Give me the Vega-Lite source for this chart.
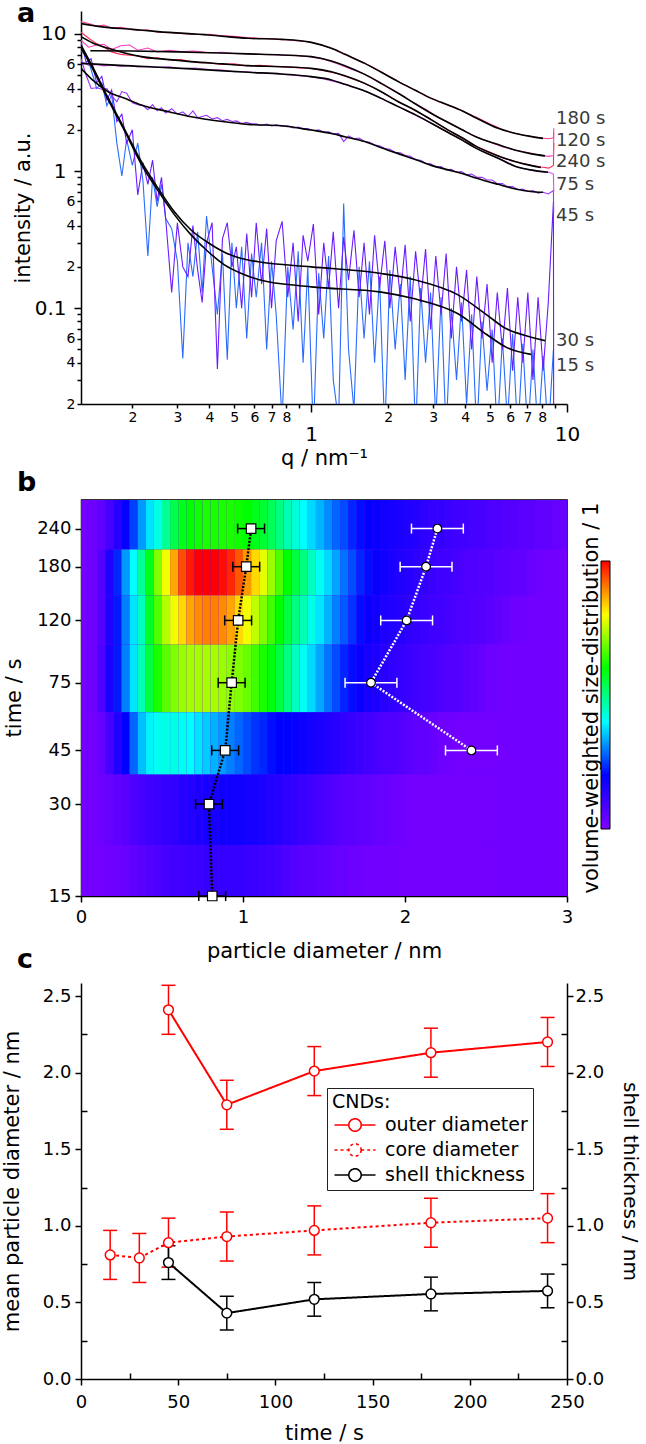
{
"$schema": "https://vega.github.io/schema/vega-lite/v6.json",
"padding": {"left": 1, "top": 0, "right": 6, "bottom": 0},
"background": "white",
"config": {
  "font": "DejaVu Sans",
  "view": {"stroke": null},
  "axis": {"grid": false, "domainColor": "#000", "domainWidth": 1.5, "tickColor": "#000", "tickWidth": 1.5, "labelColor": "#000", "titleColor": "#000", "labelFont": "DejaVu Sans", "titleFont": "DejaVu Sans", "titleFontWeight": "normal", "labelFontSize": 18, "titleFontSize": 21, "labelFlush": false, "labelOverlap": false, "labelBound": false},
  "title": {"font": "DejaVu Sans", "fontSize": 27, "fontWeight": "bold", "anchor": "start", "frame": "group", "offset": 0, "baseline": "alphabetic", "color": "#000"},
  "legend": {"labelFont": "DejaVu Sans", "titleFont": "DejaVu Sans"}
},
"datasets": {
"sa": [
{"s":"15 s","q":0.126,"I":7.5},{"s":"15 s","q":0.132,"I":7.0},{"s":"15 s","q":0.138,"I":5.5},{"s":"15 s","q":0.145,"I":4.0},{"s":"15 s","q":0.152,"I":4.4},{"s":"15 s","q":0.159,"I":3.0},{"s":"15 s","q":0.166,"I":3.6},{"s":"15 s","q":0.174,"I":1.6},{"s":"15 s","q":0.182,"I":0.92},{"s":"15 s","q":0.19,"I":1.7},
{"s":"15 s","q":0.2,"I":1.1},{"s":"15 s","q":0.21,"I":1.6},{"s":"15 s","q":0.22,"I":0.85},{"s":"15 s","q":0.23,"I":0.24},{"s":"15 s","q":0.24,"I":0.9},{"s":"15 s","q":0.25,"I":0.55},{"s":"15 s","q":0.26,"I":0.8},{"s":"15 s","q":0.27,"I":0.45},{"s":"15 s","q":0.285,"I":0.38},{"s":"15 s","q":0.3,"I":0.22},
{"s":"15 s","q":0.315,"I":0.043},{"s":"15 s","q":0.33,"I":0.3},{"s":"15 s","q":0.345,"I":0.17},{"s":"15 s","q":0.36,"I":0.36},{"s":"15 s","q":0.375,"I":0.13},{"s":"15 s","q":0.39,"I":0.47},{"s":"15 s","q":0.41,"I":0.2},{"s":"15 s","q":0.43,"I":0.09},{"s":"15 s","q":0.45,"I":0.25},{"s":"15 s","q":0.47,"I":0.042},
{"s":"15 s","q":0.49,"I":0.3},{"s":"15 s","q":0.51,"I":0.1},{"s":"15 s","q":0.535,"I":0.28},{"s":"15 s","q":0.56,"I":0.06},{"s":"15 s","q":0.585,"I":0.25},{"s":"15 s","q":0.61,"I":0.12},{"s":"15 s","q":0.64,"I":0.3},{"s":"15 s","q":0.67,"I":0.05},{"s":"15 s","q":0.7,"I":0.22},{"s":"15 s","q":0.73,"I":0.09},
{"s":"15 s","q":0.77,"I":0.015},{"s":"15 s","q":0.81,"I":0.2},{"s":"15 s","q":0.85,"I":0.07},{"s":"15 s","q":0.89,"I":0.26},{"s":"15 s","q":0.93,"I":0.04},{"s":"15 s","q":0.97,"I":0.2},{"s":"15 s","q":1.02,"I":0.012},{"s":"15 s","q":1.07,"I":0.18},{"s":"15 s","q":1.12,"I":0.06},{"s":"15 s","q":1.17,"I":0.24},
{"s":"15 s","q":1.22,"I":0.03},{"s":"15 s","q":1.28,"I":0.015},{"s":"15 s","q":1.34,"I":0.58},{"s":"15 s","q":1.4,"I":0.05},{"s":"15 s","q":1.47,"I":0.018},{"s":"15 s","q":1.54,"I":0.2},{"s":"15 s","q":1.61,"I":0.06},{"s":"15 s","q":1.69,"I":0.22},{"s":"15 s","q":1.77,"I":0.04},{"s":"15 s","q":1.85,"I":0.17},
{"s":"15 s","q":1.94,"I":0.012},{"s":"15 s","q":2.03,"I":0.19},{"s":"15 s","q":2.13,"I":0.05},{"s":"15 s","q":2.23,"I":0.15},{"s":"15 s","q":2.33,"I":0.03},{"s":"15 s","q":2.44,"I":0.17},{"s":"15 s","q":2.56,"I":0.012},{"s":"15 s","q":2.68,"I":0.14},{"s":"15 s","q":2.8,"I":0.04},{"s":"15 s","q":2.93,"I":0.13},
{"s":"15 s","q":3.07,"I":0.015},{"s":"15 s","q":3.22,"I":0.12},{"s":"15 s","q":3.37,"I":0.012},{"s":"15 s","q":3.53,"I":0.1},{"s":"15 s","q":3.7,"I":0.03},{"s":"15 s","q":3.87,"I":0.11},{"s":"15 s","q":4.05,"I":0.02},{"s":"15 s","q":4.24,"I":0.09},{"s":"15 s","q":4.44,"I":0.012},{"s":"15 s","q":4.65,"I":0.08},
{"s":"15 s","q":4.87,"I":0.025},{"s":"15 s","q":5.1,"I":0.07},{"s":"15 s","q":5.34,"I":0.012},{"s":"15 s","q":5.59,"I":0.06},{"s":"15 s","q":5.85,"I":0.015},{"s":"15 s","q":6.13,"I":0.065},{"s":"15 s","q":6.42,"I":0.012},{"s":"15 s","q":6.72,"I":0.055},{"s":"15 s","q":7.03,"I":0.012},{"s":"15 s","q":7.36,"I":0.05},
{"s":"15 s","q":7.71,"I":0.012},{"s":"15 s","q":8.07,"I":0.045},{"s":"15 s","q":8.45,"I":0.012},{"s":"15 s","q":8.85,"I":0.05},
{"s":"30 s","q":0.126,"I":8.8},{"s":"30 s","q":0.132,"I":6.2},{"s":"30 s","q":0.138,"I":6.6},{"s":"30 s","q":0.145,"I":4.4},{"s":"30 s","q":0.152,"I":4.9},{"s":"30 s","q":0.159,"I":3.3},{"s":"30 s","q":0.166,"I":3.9},{"s":"30 s","q":0.174,"I":2.3},{"s":"30 s","q":0.182,"I":2.6},{"s":"30 s","q":0.19,"I":1.6},
{"s":"30 s","q":0.2,"I":2.0},{"s":"30 s","q":0.21,"I":0.67},{"s":"30 s","q":0.22,"I":1.15},{"s":"30 s","q":0.23,"I":0.8},{"s":"30 s","q":0.24,"I":1.2},{"s":"30 s","q":0.25,"I":0.6},{"s":"30 s","q":0.26,"I":0.9},{"s":"30 s","q":0.27,"I":0.45},{"s":"30 s","q":0.285,"I":0.13},{"s":"30 s","q":0.3,"I":0.42},
{"s":"30 s","q":0.315,"I":0.2},{"s":"30 s","q":0.33,"I":0.17},{"s":"30 s","q":0.345,"I":0.4},{"s":"30 s","q":0.36,"I":0.19},{"s":"30 s","q":0.375,"I":0.11},{"s":"30 s","q":0.39,"I":0.3},{"s":"30 s","q":0.41,"I":0.42},{"s":"30 s","q":0.43,"I":0.036},{"s":"30 s","q":0.45,"I":0.32},{"s":"30 s","q":0.47,"I":0.42},
{"s":"30 s","q":0.49,"I":0.2},{"s":"30 s","q":0.51,"I":0.28},{"s":"30 s","q":0.535,"I":0.1},{"s":"30 s","q":0.56,"I":0.35},{"s":"30 s","q":0.585,"I":0.12},{"s":"30 s","q":0.61,"I":0.42},{"s":"30 s","q":0.64,"I":0.15},{"s":"30 s","q":0.67,"I":0.38},{"s":"30 s","q":0.7,"I":0.1},{"s":"30 s","q":0.73,"I":0.31},
{"s":"30 s","q":0.77,"I":0.43},{"s":"30 s","q":0.81,"I":0.12},{"s":"30 s","q":0.85,"I":0.3},{"s":"30 s","q":0.89,"I":0.08},{"s":"30 s","q":0.93,"I":0.34},{"s":"30 s","q":0.97,"I":0.22},{"s":"30 s","q":1.02,"I":0.41},{"s":"30 s","q":1.07,"I":0.09},{"s":"30 s","q":1.12,"I":0.3},{"s":"30 s","q":1.17,"I":0.14},
{"s":"30 s","q":1.22,"I":0.36},{"s":"30 s","q":1.28,"I":0.1},{"s":"30 s","q":1.34,"I":0.33},{"s":"30 s","q":1.4,"I":0.16},{"s":"30 s","q":1.47,"I":0.37},{"s":"30 s","q":1.54,"I":0.12},{"s":"30 s","q":1.61,"I":0.3},{"s":"30 s","q":1.69,"I":0.09},{"s":"30 s","q":1.77,"I":0.34},{"s":"30 s","q":1.85,"I":0.14},
{"s":"30 s","q":1.94,"I":0.31},{"s":"30 s","q":2.03,"I":0.1},{"s":"30 s","q":2.13,"I":0.28},{"s":"30 s","q":2.23,"I":0.12},{"s":"30 s","q":2.33,"I":0.29},{"s":"30 s","q":2.44,"I":0.08},{"s":"30 s","q":2.56,"I":0.26},{"s":"30 s","q":2.68,"I":0.11},{"s":"30 s","q":2.8,"I":0.27},{"s":"30 s","q":2.93,"I":0.07},
{"s":"30 s","q":3.07,"I":0.24},{"s":"30 s","q":3.22,"I":0.09},{"s":"30 s","q":3.37,"I":0.25},{"s":"30 s","q":3.53,"I":0.06},{"s":"30 s","q":3.7,"I":0.2},{"s":"30 s","q":3.87,"I":0.08},{"s":"30 s","q":4.05,"I":0.19},{"s":"30 s","q":4.24,"I":0.05},{"s":"30 s","q":4.44,"I":0.17},{"s":"30 s","q":4.65,"I":0.06},
{"s":"30 s","q":4.87,"I":0.15},{"s":"30 s","q":5.1,"I":0.04},{"s":"30 s","q":5.34,"I":0.13},{"s":"30 s","q":5.59,"I":0.05},{"s":"30 s","q":5.85,"I":0.14},{"s":"30 s","q":6.13,"I":0.035},{"s":"30 s","q":6.42,"I":0.12},{"s":"30 s","q":6.72,"I":0.04},{"s":"30 s","q":7.03,"I":0.13},{"s":"30 s","q":7.36,"I":0.03},
{"s":"30 s","q":7.71,"I":0.12},{"s":"30 s","q":8.07,"I":0.035},{"s":"30 s","q":8.45,"I":0.11},{"s":"30 s","q":8.85,"I":0.6},{"s":"30 s","q":8.87,"I":0.015},
{"s":"45 s","q":0.126,"I":6.6},{"s":"45 s","q":0.132,"I":5.0},{"s":"45 s","q":0.138,"I":4.0},{"s":"45 s","q":0.145,"I":4.05},{"s":"45 s","q":0.152,"I":3.95},{"s":"45 s","q":0.159,"I":4.0},{"s":"45 s","q":0.166,"I":3.55},{"s":"45 s","q":0.174,"I":3.2},{"s":"45 s","q":0.182,"I":3.8},{"s":"45 s","q":0.19,"I":3.7},
{"s":"45 s","q":0.2,"I":3.15},{"s":"45 s","q":0.21,"I":3.05},{"s":"45 s","q":0.22,"I":3.0},{"s":"45 s","q":0.23,"I":2.8},{"s":"45 s","q":0.24,"I":3.05},{"s":"45 s","q":0.25,"I":2.75},{"s":"45 s","q":0.26,"I":2.9},{"s":"45 s","q":0.27,"I":2.65},{"s":"45 s","q":0.285,"I":2.85},{"s":"45 s","q":0.3,"I":2.6},
{"s":"45 s","q":0.315,"I":2.7},{"s":"45 s","q":0.33,"I":2.5},{"s":"45 s","q":0.345,"I":2.75},{"s":"45 s","q":0.36,"I":2.45},{"s":"45 s","q":0.375,"I":2.5},{"s":"45 s","q":0.39,"I":2.55},{"s":"45 s","q":0.41,"I":2.4},{"s":"45 s","q":0.43,"I":2.45},{"s":"45 s","q":0.45,"I":2.33},{"s":"45 s","q":0.47,"I":2.38},
{"s":"45 s","q":0.49,"I":2.3},{"s":"45 s","q":0.51,"I":2.32},{"s":"45 s","q":0.535,"I":2.22},{"s":"45 s","q":0.56,"I":2.27},{"s":"45 s","q":0.585,"I":2.2},{"s":"45 s","q":0.61,"I":2.21},{"s":"45 s","q":0.64,"I":2.15},{"s":"45 s","q":0.67,"I":2.2},{"s":"45 s","q":0.7,"I":2.13},{"s":"45 s","q":0.73,"I":2.17},
{"s":"45 s","q":0.77,"I":2.12},{"s":"45 s","q":0.81,"I":2.14},{"s":"45 s","q":0.85,"I":2.06},{"s":"45 s","q":0.89,"I":2.09},{"s":"45 s","q":0.93,"I":2.03},{"s":"45 s","q":0.97,"I":2.04},{"s":"45 s","q":1.02,"I":1.97},{"s":"45 s","q":1.07,"I":2.0},{"s":"45 s","q":1.12,"I":1.92},{"s":"45 s","q":1.17,"I":1.93},
{"s":"45 s","q":1.22,"I":1.86},{"s":"45 s","q":1.28,"I":1.88},{"s":"45 s","q":1.34,"I":1.64},{"s":"45 s","q":1.4,"I":1.8},{"s":"45 s","q":1.47,"I":1.72},{"s":"45 s","q":1.54,"I":1.74},{"s":"45 s","q":1.61,"I":1.65},{"s":"45 s","q":1.69,"I":1.62},{"s":"45 s","q":1.77,"I":1.55},{"s":"45 s","q":1.85,"I":1.53},
{"s":"45 s","q":1.94,"I":1.46},{"s":"45 s","q":2.03,"I":1.44},{"s":"45 s","q":2.13,"I":1.37},{"s":"45 s","q":2.23,"I":1.36},{"s":"45 s","q":2.33,"I":1.3},{"s":"45 s","q":2.44,"I":1.28},{"s":"45 s","q":2.56,"I":1.21},{"s":"45 s","q":2.68,"I":1.2},{"s":"45 s","q":2.8,"I":1.14},{"s":"45 s","q":2.93,"I":1.13},
{"s":"45 s","q":3.07,"I":1.07},{"s":"45 s","q":3.22,"I":1.08},{"s":"45 s","q":3.37,"I":1.02},{"s":"45 s","q":3.53,"I":1.03},{"s":"45 s","q":3.7,"I":0.98},{"s":"45 s","q":3.87,"I":0.99},{"s":"45 s","q":4.05,"I":0.94},{"s":"45 s","q":4.24,"I":0.95},{"s":"45 s","q":4.44,"I":0.9},{"s":"45 s","q":4.65,"I":0.9},
{"s":"45 s","q":4.87,"I":0.86},{"s":"45 s","q":5.1,"I":0.86},{"s":"45 s","q":5.34,"I":0.81},{"s":"45 s","q":5.59,"I":0.81},{"s":"45 s","q":5.85,"I":0.77},{"s":"45 s","q":6.13,"I":0.77},{"s":"45 s","q":6.42,"I":0.73},{"s":"45 s","q":6.72,"I":0.74},{"s":"45 s","q":7.03,"I":0.71},{"s":"45 s","q":7.36,"I":0.72},
{"s":"45 s","q":7.71,"I":0.69},{"s":"45 s","q":8.07,"I":0.7},{"s":"45 s","q":8.45,"I":0.68},{"s":"45 s","q":8.85,"I":0.72},{"s":"45 s","q":8.87,"I":0.5},
{"s":"75 s","q":0.126,"I":6.3},{"s":"75 s","q":0.135,"I":5.9},{"s":"75 s","q":0.145,"I":6.0},{"s":"75 s","q":0.155,"I":5.85},{"s":"75 s","q":0.166,"I":5.95},{"s":"75 s","q":0.18,"I":5.8},{"s":"75 s","q":0.195,"I":5.9},{"s":"75 s","q":0.21,"I":5.75},{"s":"75 s","q":0.23,"I":5.8},{"s":"75 s","q":0.25,"I":5.7},
{"s":"75 s","q":0.28,"I":5.75},{"s":"75 s","q":0.31,"I":5.6},{"s":"75 s","q":0.35,"I":5.65},{"s":"75 s","q":0.4,"I":5.5},{"s":"75 s","q":0.45,"I":5.45},{"s":"75 s","q":0.5,"I":5.3},{"s":"75 s","q":0.56,"I":5.3},{"s":"75 s","q":0.63,"I":5.2},{"s":"75 s","q":0.71,"I":5.15},{"s":"75 s","q":0.8,"I":5.05},
{"s":"75 s","q":0.9,"I":4.95},{"s":"75 s","q":1.0,"I":4.85},{"s":"75 s","q":1.12,"I":4.7},{"s":"75 s","q":1.26,"I":4.45},{"s":"75 s","q":1.41,"I":4.2},{"s":"75 s","q":1.58,"I":3.9},{"s":"75 s","q":1.78,"I":3.55},{"s":"75 s","q":2.0,"I":3.2},{"s":"75 s","q":2.24,"I":2.9},{"s":"75 s","q":2.51,"I":2.6},
{"s":"75 s","q":2.82,"I":2.33},{"s":"75 s","q":3.16,"I":2.08},{"s":"75 s","q":3.55,"I":1.85},{"s":"75 s","q":3.98,"I":1.65},{"s":"75 s","q":4.47,"I":1.45},{"s":"75 s","q":5.01,"I":1.32},{"s":"75 s","q":5.62,"I":1.2},{"s":"75 s","q":6.31,"I":1.08},{"s":"75 s","q":7.08,"I":1.02},{"s":"75 s","q":7.94,"I":0.99},
{"s":"75 s","q":8.5,"I":0.98},{"s":"75 s","q":8.85,"I":0.95},{"s":"75 s","q":8.88,"I":0.7},
{"s":"240 s","q":0.126,"I":10.3},{"s":"240 s","q":0.135,"I":9.3},{"s":"240 s","q":0.145,"I":8.5},{"s":"240 s","q":0.155,"I":8.0},{"s":"240 s","q":0.166,"I":7.4},{"s":"240 s","q":0.18,"I":7.1},{"s":"240 s","q":0.195,"I":7.0},{"s":"240 s","q":0.21,"I":6.9},{"s":"240 s","q":0.23,"I":6.6},{"s":"240 s","q":0.25,"I":6.7},
{"s":"240 s","q":0.28,"I":6.45},{"s":"240 s","q":0.31,"I":6.5},{"s":"240 s","q":0.35,"I":6.2},{"s":"240 s","q":0.4,"I":6.15},{"s":"240 s","q":0.45,"I":6.0},{"s":"240 s","q":0.5,"I":6.05},{"s":"240 s","q":0.56,"I":5.85},{"s":"240 s","q":0.63,"I":5.9},{"s":"240 s","q":0.71,"I":5.8},{"s":"240 s","q":0.8,"I":5.75},
{"s":"240 s","q":0.9,"I":5.65},{"s":"240 s","q":1.0,"I":5.6},{"s":"240 s","q":1.12,"I":5.4},{"s":"240 s","q":1.26,"I":5.15},{"s":"240 s","q":1.41,"I":4.8},{"s":"240 s","q":1.58,"I":4.45},{"s":"240 s","q":1.78,"I":4.0},{"s":"240 s","q":2.0,"I":3.55},{"s":"240 s","q":2.24,"I":3.15},{"s":"240 s","q":2.51,"I":2.8},
{"s":"240 s","q":2.82,"I":2.5},{"s":"240 s","q":3.16,"I":2.2},{"s":"240 s","q":3.55,"I":1.92},{"s":"240 s","q":3.98,"I":1.7},{"s":"240 s","q":4.47,"I":1.5},{"s":"240 s","q":5.01,"I":1.37},{"s":"240 s","q":5.62,"I":1.25},{"s":"240 s","q":6.31,"I":1.17},{"s":"240 s","q":7.08,"I":1.11},{"s":"240 s","q":7.94,"I":1.07},
{"s":"240 s","q":8.5,"I":1.05},{"s":"240 s","q":8.85,"I":1.1},{"s":"240 s","q":8.88,"I":1.6},
{"s":"120 s","q":0.126,"I":9.0},{"s":"120 s","q":0.135,"I":8.0},{"s":"120 s","q":0.145,"I":8.3},{"s":"120 s","q":0.155,"I":8.4},{"s":"120 s","q":0.166,"I":7.7},{"s":"120 s","q":0.18,"I":8.2},{"s":"120 s","q":0.195,"I":8.3},{"s":"120 s","q":0.21,"I":7.6},{"s":"120 s","q":0.23,"I":7.9},{"s":"120 s","q":0.25,"I":7.4},
{"s":"120 s","q":0.28,"I":7.6},{"s":"120 s","q":0.31,"I":7.45},{"s":"120 s","q":0.35,"I":7.5},{"s":"120 s","q":0.4,"I":7.3},{"s":"120 s","q":0.45,"I":7.35},{"s":"120 s","q":0.5,"I":7.2},{"s":"120 s","q":0.56,"I":7.15},{"s":"120 s","q":0.63,"I":7.1},{"s":"120 s","q":0.71,"I":7.05},{"s":"120 s","q":0.8,"I":7.0},
{"s":"120 s","q":0.9,"I":6.95},{"s":"120 s","q":1.0,"I":6.8},{"s":"120 s","q":1.12,"I":6.55},{"s":"120 s","q":1.26,"I":6.1},{"s":"120 s","q":1.41,"I":5.6},{"s":"120 s","q":1.58,"I":5.2},{"s":"120 s","q":1.78,"I":4.6},{"s":"120 s","q":2.0,"I":4.05},{"s":"120 s","q":2.24,"I":3.6},{"s":"120 s","q":2.51,"I":3.15},
{"s":"120 s","q":2.82,"I":2.8},{"s":"120 s","q":3.16,"I":2.45},{"s":"120 s","q":3.55,"I":2.2},{"s":"120 s","q":3.98,"I":1.95},{"s":"120 s","q":4.47,"I":1.76},{"s":"120 s","q":5.01,"I":1.62},{"s":"120 s","q":5.62,"I":1.5},{"s":"120 s","q":6.31,"I":1.42},{"s":"120 s","q":7.08,"I":1.36},{"s":"120 s","q":7.94,"I":1.3},
{"s":"120 s","q":8.5,"I":1.28},{"s":"120 s","q":8.85,"I":1.3},{"s":"120 s","q":8.88,"I":1.9},
{"s":"180 s","q":0.126,"I":12.3},{"s":"180 s","q":0.135,"I":11.9},{"s":"180 s","q":0.145,"I":11.4},{"s":"180 s","q":0.155,"I":11.6},{"s":"180 s","q":0.166,"I":11.0},{"s":"180 s","q":0.18,"I":11.2},{"s":"180 s","q":0.195,"I":10.9},{"s":"180 s","q":0.21,"I":10.6},{"s":"180 s","q":0.23,"I":10.7},{"s":"180 s","q":0.25,"I":10.3},
{"s":"180 s","q":0.28,"I":10.2},{"s":"180 s","q":0.31,"I":10.1},{"s":"180 s","q":0.35,"I":9.9},{"s":"180 s","q":0.4,"I":9.95},{"s":"180 s","q":0.45,"I":9.7},{"s":"180 s","q":0.5,"I":9.6},{"s":"180 s","q":0.56,"I":9.4},{"s":"180 s","q":0.63,"I":9.3},{"s":"180 s","q":0.71,"I":9.2},{"s":"180 s","q":0.8,"I":9.05},
{"s":"180 s","q":0.9,"I":8.9},{"s":"180 s","q":1.0,"I":8.7},{"s":"180 s","q":1.12,"I":8.2},{"s":"180 s","q":1.26,"I":7.6},{"s":"180 s","q":1.41,"I":6.9},{"s":"180 s","q":1.58,"I":6.25},{"s":"180 s","q":1.78,"I":5.6},{"s":"180 s","q":2.0,"I":4.95},{"s":"180 s","q":2.24,"I":4.4},{"s":"180 s","q":2.51,"I":3.95},
{"s":"180 s","q":2.82,"I":3.5},{"s":"180 s","q":3.16,"I":3.2},{"s":"180 s","q":3.55,"I":2.95},{"s":"180 s","q":3.98,"I":2.7},{"s":"180 s","q":4.47,"I":2.45},{"s":"180 s","q":5.01,"I":2.2},{"s":"180 s","q":5.62,"I":2.0},{"s":"180 s","q":6.31,"I":1.88},{"s":"180 s","q":7.08,"I":1.8},{"s":"180 s","q":7.94,"I":1.74},
{"s":"180 s","q":8.5,"I":1.72},{"s":"180 s","q":8.85,"I":1.75},{"s":"180 s","q":8.88,"I":2.05}
],
"fa": [
{"s":"15 s","q":0.126,"I":7.9},{"s":"15 s","q":0.139,"I":5.7},{"s":"15 s","q":0.161,"I":3.3},{"s":"15 s","q":0.187,"I":1.95},{"s":"15 s","q":0.217,"I":1.12},{"s":"15 s","q":0.252,"I":0.72},{"s":"15 s","q":0.293,"I":0.477},{"s":"15 s","q":0.34,"I":0.341},{"s":"15 s","q":0.396,"I":0.258},{"s":"15 s","q":0.46,"I":0.206},{"s":"15 s","q":0.534,"I":0.179},{"s":"15 s","q":0.621,"I":0.162},{"s":"15 s","q":1.0,"I":0.143},{"s":"15 s","q":1.88,"I":0.131},{"s":"15 s","q":2.54,"I":0.117},{"s":"15 s","q":3.75,"I":0.091},{"s":"15 s","q":4.87,"I":0.064},{"s":"15 s","q":5.77,"I":0.052},{"s":"15 s","q":7.23,"I":0.046},
{"s":"30 s","q":0.126,"I":8.3},{"s":"30 s","q":0.139,"I":5.9},{"s":"30 s","q":0.161,"I":3.4},{"s":"30 s","q":0.187,"I":2.0},{"s":"30 s","q":0.217,"I":1.17},{"s":"30 s","q":0.252,"I":0.75},{"s":"30 s","q":0.293,"I":0.5},{"s":"30 s","q":0.34,"I":0.37},{"s":"30 s","q":0.396,"I":0.3},{"s":"30 s","q":0.46,"I":0.255},{"s":"30 s","q":0.534,"I":0.23},{"s":"30 s","q":0.621,"I":0.218},{"s":"30 s","q":1.0,"I":0.2},{"s":"30 s","q":1.88,"I":0.179},{"s":"30 s","q":2.54,"I":0.161},{"s":"30 s","q":3.75,"I":0.125},{"s":"30 s","q":4.87,"I":0.089},{"s":"30 s","q":5.77,"I":0.071},{"s":"30 s","q":6.72,"I":0.064},{"s":"30 s","q":8.2,"I":0.058},
{"s":"45 s","q":0.126,"I":5.61},{"s":"45 s","q":0.14,"I":4.6},{"s":"45 s","q":0.161,"I":3.79},{"s":"45 s","q":0.19,"I":3.35},{"s":"45 s","q":0.217,"I":3.03},{"s":"45 s","q":0.28,"I":2.7},{"s":"45 s","q":0.34,"I":2.49},{"s":"45 s","q":0.45,"I":2.3},{"s":"45 s","q":0.567,"I":2.19},{"s":"45 s","q":0.766,"I":2.14},{"s":"45 s","q":1.0,"I":1.99},{"s":"45 s","q":1.2,"I":1.88},{"s":"45 s","q":1.354,"I":1.78},{"s":"45 s","q":1.62,"I":1.64},{"s":"45 s","q":1.88,"I":1.48},{"s":"45 s","q":2.19,"I":1.34},{"s":"45 s","q":2.54,"I":1.22},{"s":"45 s","q":2.95,"I":1.1},{"s":"45 s","q":3.43,"I":1.02},{"s":"45 s","q":3.89,"I":0.96},{"s":"45 s","q":4.4,"I":0.89},{"s":"45 s","q":5.38,"I":0.8},{"s":"45 s","q":6.3,"I":0.74},{"s":"45 s","q":7.2,"I":0.71},{"s":"45 s","q":8.06,"I":0.7},
{"s":"75 s","q":0.126,"I":6.1},{"s":"75 s","q":0.187,"I":5.87},{"s":"75 s","q":0.34,"I":5.56},{"s":"75 s","q":0.567,"I":5.25},{"s":"75 s","q":0.766,"I":5.1},{"s":"75 s","q":1.0,"I":4.88},{"s":"75 s","q":1.2,"I":4.62},{"s":"75 s","q":1.354,"I":4.29},{"s":"75 s","q":1.62,"I":3.84},{"s":"75 s","q":1.88,"I":3.39},{"s":"75 s","q":2.19,"I":2.95},{"s":"75 s","q":2.54,"I":2.59},{"s":"75 s","q":2.95,"I":2.23},{"s":"75 s","q":3.43,"I":1.91},{"s":"75 s","q":3.89,"I":1.68},{"s":"75 s","q":4.4,"I":1.47},{"s":"75 s","q":5.38,"I":1.24},{"s":"75 s","q":6.3,"I":1.08},{"s":"75 s","q":7.2,"I":1.02},{"s":"75 s","q":8.43,"I":0.98},
{"s":"240 s","q":0.126,"I":9.55},{"s":"240 s","q":0.14,"I":8.6},{"s":"240 s","q":0.161,"I":7.85},{"s":"240 s","q":0.19,"I":7.2},{"s":"240 s","q":0.217,"I":6.83},{"s":"240 s","q":0.28,"I":6.5},{"s":"240 s","q":0.34,"I":6.28},{"s":"240 s","q":0.45,"I":6.05},{"s":"240 s","q":0.567,"I":5.87},{"s":"240 s","q":0.766,"I":5.77},{"s":"240 s","q":1.0,"I":5.61},{"s":"240 s","q":1.2,"I":5.3},{"s":"240 s","q":1.354,"I":4.96},{"s":"240 s","q":1.62,"I":4.36},{"s":"240 s","q":1.88,"I":3.79},{"s":"240 s","q":2.19,"I":3.2},{"s":"240 s","q":2.54,"I":2.79},{"s":"240 s","q":2.95,"I":2.36},{"s":"240 s","q":3.43,"I":1.99},{"s":"240 s","q":3.89,"I":1.75},{"s":"240 s","q":4.4,"I":1.52},{"s":"240 s","q":5.38,"I":1.29},{"s":"240 s","q":6.3,"I":1.17},{"s":"240 s","q":7.2,"I":1.1},{"s":"240 s","q":7.91,"I":1.06},
{"s":"120 s","q":0.137,"I":7.55},{"s":"120 s","q":0.2,"I":7.5},{"s":"120 s","q":0.3,"I":7.4},{"s":"120 s","q":0.4,"I":7.3},{"s":"120 s","q":0.567,"I":7.15},{"s":"120 s","q":0.766,"I":7.03},{"s":"120 s","q":1.0,"I":6.83},{"s":"120 s","q":1.2,"I":6.35},{"s":"120 s","q":1.354,"I":5.87},{"s":"120 s","q":1.62,"I":5.07},{"s":"120 s","q":1.88,"I":4.36},{"s":"120 s","q":2.19,"I":3.69},{"s":"120 s","q":2.54,"I":3.11},{"s":"120 s","q":2.95,"I":2.63},{"s":"120 s","q":3.43,"I":2.26},{"s":"120 s","q":3.89,"I":2.0},{"s":"120 s","q":4.4,"I":1.78},{"s":"120 s","q":5.38,"I":1.56},{"s":"120 s","q":6.3,"I":1.42},{"s":"120 s","q":7.2,"I":1.34},{"s":"120 s","q":8.2,"I":1.29},
{"s":"180 s","q":0.126,"I":11.9},{"s":"180 s","q":0.15,"I":11.3},{"s":"180 s","q":0.2,"I":10.8},{"s":"180 s","q":0.252,"I":10.4},{"s":"180 s","q":0.396,"I":9.83},{"s":"180 s","q":0.567,"I":9.29},{"s":"180 s","q":0.766,"I":9.13},{"s":"180 s","q":1.0,"I":8.68},{"s":"180 s","q":1.2,"I":7.85},{"s":"180 s","q":1.354,"I":7.1},{"s":"180 s","q":1.62,"I":6.1},{"s":"180 s","q":1.88,"I":5.25},{"s":"180 s","q":2.19,"I":4.49},{"s":"180 s","q":2.54,"I":3.9},{"s":"180 s","q":2.95,"I":3.39},{"s":"180 s","q":3.43,"I":3.03},{"s":"180 s","q":3.89,"I":2.75},{"s":"180 s","q":4.4,"I":2.45},{"s":"180 s","q":5.38,"I":2.05},{"s":"180 s","q":6.3,"I":1.88},{"s":"180 s","q":7.2,"I":1.79},{"s":"180 s","q":8.06,"I":1.73}
],
"la": [
{"lab":"180 s","q":9.06,"I":2.41},{"lab":"120 s","q":9.06,"I":1.65},{"lab":"240 s","q":9.06,"I":1.16},{"lab":"75 s","q":9.06,"I":0.79},{"lab":"45 s","q":9.06,"I":0.47},{"lab":"30 s","q":9.06,"I":0.058},{"lab":"15 s","q":9.06,"I":0.0376}
],
"bands": [
{"t":240,"lo":205,"hi":300},{"t":180,"lo":145,"hi":205},{"t":120,"lo":100,"hi":145},{"t":75,"lo":60,"hi":100},{"t":45,"lo":37.5,"hi":60},{"t":30,"lo":22,"hi":37.5},{"t":15,"lo":15,"hi":22}
],
"heat": [
{"t":240,"d":0.025,"v":0.02},{"t":240,"d":0.075,"v":0.03},{"t":240,"d":0.125,"v":0.05},{"t":240,"d":0.175,"v":0.09},{"t":240,"d":0.225,"v":0.14},{"t":240,"d":0.275,"v":0.19},{"t":240,"d":0.325,"v":0.25},{"t":240,"d":0.375,"v":0.32},{"t":240,"d":0.425,"v":0.38},{"t":240,"d":0.475,"v":0.42},
{"t":240,"d":0.525,"v":0.48},{"t":240,"d":0.575,"v":0.54},{"t":240,"d":0.625,"v":0.58},{"t":240,"d":0.675,"v":0.6},{"t":240,"d":0.725,"v":0.61},{"t":240,"d":0.775,"v":0.62},{"t":240,"d":0.825,"v":0.62},{"t":240,"d":0.875,"v":0.62},{"t":240,"d":0.925,"v":0.62},{"t":240,"d":0.975,"v":0.61},
{"t":240,"d":1.025,"v":0.6},{"t":240,"d":1.075,"v":0.58},{"t":240,"d":1.125,"v":0.56},{"t":240,"d":1.175,"v":0.53},{"t":240,"d":1.225,"v":0.5},{"t":240,"d":1.275,"v":0.46},{"t":240,"d":1.325,"v":0.43},{"t":240,"d":1.375,"v":0.4},{"t":240,"d":1.425,"v":0.37},{"t":240,"d":1.475,"v":0.34},
{"t":240,"d":1.525,"v":0.31},{"t":240,"d":1.575,"v":0.28},{"t":240,"d":1.625,"v":0.26},{"t":240,"d":1.675,"v":0.23},{"t":240,"d":1.725,"v":0.21},{"t":240,"d":1.775,"v":0.2},{"t":240,"d":1.825,"v":0.19},{"t":240,"d":1.875,"v":0.18},{"t":240,"d":1.925,"v":0.17},{"t":240,"d":1.975,"v":0.16},
{"t":240,"d":2.025,"v":0.15},{"t":240,"d":2.075,"v":0.14},{"t":240,"d":2.125,"v":0.13},{"t":240,"d":2.175,"v":0.12},{"t":240,"d":2.225,"v":0.12},{"t":240,"d":2.275,"v":0.11},{"t":240,"d":2.325,"v":0.1},{"t":240,"d":2.375,"v":0.1},{"t":240,"d":2.425,"v":0.09},{"t":240,"d":2.475,"v":0.09},
{"t":240,"d":2.525,"v":0.08},{"t":240,"d":2.575,"v":0.08},{"t":240,"d":2.625,"v":0.07},{"t":240,"d":2.675,"v":0.07},{"t":240,"d":2.725,"v":0.06},{"t":240,"d":2.775,"v":0.06},{"t":240,"d":2.825,"v":0.05},{"t":240,"d":2.875,"v":0.05},{"t":240,"d":2.925,"v":0.04},{"t":240,"d":2.975,"v":0.04},
{"t":180,"d":0.025,"v":0.02},{"t":180,"d":0.075,"v":0.03},{"t":180,"d":0.125,"v":0.07},{"t":180,"d":0.175,"v":0.15},{"t":180,"d":0.225,"v":0.23},{"t":180,"d":0.275,"v":0.32},{"t":180,"d":0.325,"v":0.4},{"t":180,"d":0.375,"v":0.48},{"t":180,"d":0.425,"v":0.58},{"t":180,"d":0.475,"v":0.7},
{"t":180,"d":0.525,"v":0.79},{"t":180,"d":0.575,"v":0.87},{"t":180,"d":0.625,"v":0.94},{"t":180,"d":0.675,"v":0.98},{"t":180,"d":0.725,"v":1},{"t":180,"d":0.775,"v":1},{"t":180,"d":0.825,"v":1},{"t":180,"d":0.875,"v":0.99},{"t":180,"d":0.925,"v":0.97},{"t":180,"d":0.975,"v":0.93},
{"t":180,"d":1.025,"v":0.88},{"t":180,"d":1.075,"v":0.83},{"t":180,"d":1.125,"v":0.78},{"t":180,"d":1.175,"v":0.72},{"t":180,"d":1.225,"v":0.66},{"t":180,"d":1.275,"v":0.6},{"t":180,"d":1.325,"v":0.55},{"t":180,"d":1.375,"v":0.5},{"t":180,"d":1.425,"v":0.45},{"t":180,"d":1.475,"v":0.41},
{"t":180,"d":1.525,"v":0.37},{"t":180,"d":1.575,"v":0.33},{"t":180,"d":1.625,"v":0.29},{"t":180,"d":1.675,"v":0.26},{"t":180,"d":1.725,"v":0.23},{"t":180,"d":1.775,"v":0.21},{"t":180,"d":1.825,"v":0.19},{"t":180,"d":1.875,"v":0.18},{"t":180,"d":1.925,"v":0.16},{"t":180,"d":1.975,"v":0.15},
{"t":180,"d":2.025,"v":0.14},{"t":180,"d":2.075,"v":0.13},{"t":180,"d":2.125,"v":0.12},{"t":180,"d":2.175,"v":0.11},{"t":180,"d":2.225,"v":0.1},{"t":180,"d":2.275,"v":0.1},{"t":180,"d":2.325,"v":0.09},{"t":180,"d":2.375,"v":0.08},{"t":180,"d":2.425,"v":0.08},{"t":180,"d":2.475,"v":0.07},
{"t":180,"d":2.525,"v":0.07},{"t":180,"d":2.575,"v":0.06},{"t":180,"d":2.625,"v":0.06},{"t":180,"d":2.675,"v":0.05},{"t":180,"d":2.725,"v":0.05},{"t":180,"d":2.775,"v":0.04},{"t":180,"d":2.825,"v":0.03},{"t":180,"d":2.875,"v":0.02},{"t":180,"d":2.925,"v":0.02},{"t":180,"d":2.975,"v":0.02},
{"t":120,"d":0.025,"v":0.02},{"t":120,"d":0.075,"v":0.03},{"t":120,"d":0.125,"v":0.07},{"t":120,"d":0.175,"v":0.15},{"t":120,"d":0.225,"v":0.22},{"t":120,"d":0.275,"v":0.3},{"t":120,"d":0.325,"v":0.38},{"t":120,"d":0.375,"v":0.45},{"t":120,"d":0.425,"v":0.57},{"t":120,"d":0.475,"v":0.66},
{"t":120,"d":0.525,"v":0.74},{"t":120,"d":0.575,"v":0.79},{"t":120,"d":0.625,"v":0.83},{"t":120,"d":0.675,"v":0.87},{"t":120,"d":0.725,"v":0.89},{"t":120,"d":0.775,"v":0.9},{"t":120,"d":0.825,"v":0.9},{"t":120,"d":0.875,"v":0.89},{"t":120,"d":0.925,"v":0.87},{"t":120,"d":0.975,"v":0.83},
{"t":120,"d":1.025,"v":0.79},{"t":120,"d":1.075,"v":0.75},{"t":120,"d":1.125,"v":0.7},{"t":120,"d":1.175,"v":0.65},{"t":120,"d":1.225,"v":0.6},{"t":120,"d":1.275,"v":0.55},{"t":120,"d":1.325,"v":0.5},{"t":120,"d":1.375,"v":0.46},{"t":120,"d":1.425,"v":0.42},{"t":120,"d":1.475,"v":0.38},
{"t":120,"d":1.525,"v":0.34},{"t":120,"d":1.575,"v":0.3},{"t":120,"d":1.625,"v":0.27},{"t":120,"d":1.675,"v":0.24},{"t":120,"d":1.725,"v":0.21},{"t":120,"d":1.775,"v":0.19},{"t":120,"d":1.825,"v":0.18},{"t":120,"d":1.875,"v":0.16},{"t":120,"d":1.925,"v":0.15},{"t":120,"d":1.975,"v":0.14},
{"t":120,"d":2.025,"v":0.13},{"t":120,"d":2.075,"v":0.12},{"t":120,"d":2.125,"v":0.11},{"t":120,"d":2.175,"v":0.1},{"t":120,"d":2.225,"v":0.1},{"t":120,"d":2.275,"v":0.09},{"t":120,"d":2.325,"v":0.08},{"t":120,"d":2.375,"v":0.08},{"t":120,"d":2.425,"v":0.07},{"t":120,"d":2.475,"v":0.07},
{"t":120,"d":2.525,"v":0.06},{"t":120,"d":2.575,"v":0.05},{"t":120,"d":2.625,"v":0.04},{"t":120,"d":2.675,"v":0.03},{"t":120,"d":2.725,"v":0.03},{"t":120,"d":2.775,"v":0.02},{"t":120,"d":2.825,"v":0.02},{"t":120,"d":2.875,"v":0.02},{"t":120,"d":2.925,"v":0.02},{"t":120,"d":2.975,"v":0.02},
{"t":75,"d":0.025,"v":0.02},{"t":75,"d":0.075,"v":0.03},{"t":75,"d":0.125,"v":0.08},{"t":75,"d":0.175,"v":0.16},{"t":75,"d":0.225,"v":0.22},{"t":75,"d":0.275,"v":0.3},{"t":75,"d":0.325,"v":0.38},{"t":75,"d":0.375,"v":0.46},{"t":75,"d":0.425,"v":0.55},{"t":75,"d":0.475,"v":0.62},
{"t":75,"d":0.525,"v":0.67},{"t":75,"d":0.575,"v":0.7},{"t":75,"d":0.625,"v":0.72},{"t":75,"d":0.675,"v":0.73},{"t":75,"d":0.725,"v":0.73},{"t":75,"d":0.775,"v":0.73},{"t":75,"d":0.825,"v":0.73},{"t":75,"d":0.875,"v":0.72},{"t":75,"d":0.925,"v":0.71},{"t":75,"d":0.975,"v":0.7},
{"t":75,"d":1.025,"v":0.68},{"t":75,"d":1.075,"v":0.65},{"t":75,"d":1.125,"v":0.62},{"t":75,"d":1.175,"v":0.59},{"t":75,"d":1.225,"v":0.55},{"t":75,"d":1.275,"v":0.5},{"t":75,"d":1.325,"v":0.45},{"t":75,"d":1.375,"v":0.41},{"t":75,"d":1.425,"v":0.37},{"t":75,"d":1.475,"v":0.33},
{"t":75,"d":1.525,"v":0.29},{"t":75,"d":1.575,"v":0.26},{"t":75,"d":1.625,"v":0.23},{"t":75,"d":1.675,"v":0.21},{"t":75,"d":1.725,"v":0.19},{"t":75,"d":1.775,"v":0.17},{"t":75,"d":1.825,"v":0.16},{"t":75,"d":1.875,"v":0.14},{"t":75,"d":1.925,"v":0.13},{"t":75,"d":1.975,"v":0.12},
{"t":75,"d":2.025,"v":0.11},{"t":75,"d":2.075,"v":0.1},{"t":75,"d":2.125,"v":0.09},{"t":75,"d":2.175,"v":0.09},{"t":75,"d":2.225,"v":0.08},{"t":75,"d":2.275,"v":0.07},{"t":75,"d":2.325,"v":0.07},{"t":75,"d":2.375,"v":0.06},{"t":75,"d":2.425,"v":0.05},{"t":75,"d":2.475,"v":0.04},
{"t":75,"d":2.525,"v":0.03},{"t":75,"d":2.575,"v":0.03},{"t":75,"d":2.625,"v":0.02},{"t":75,"d":2.675,"v":0.02},{"t":75,"d":2.725,"v":0.02},{"t":75,"d":2.775,"v":0.02},{"t":75,"d":2.825,"v":0.02},{"t":75,"d":2.875,"v":0.02},{"t":75,"d":2.925,"v":0.02},{"t":75,"d":2.975,"v":0.02},
{"t":45,"d":0.025,"v":0.02},{"t":45,"d":0.075,"v":0.02},{"t":45,"d":0.125,"v":0.04},{"t":45,"d":0.175,"v":0.09},{"t":45,"d":0.225,"v":0.15},{"t":45,"d":0.275,"v":0.2},{"t":45,"d":0.325,"v":0.28},{"t":45,"d":0.375,"v":0.35},{"t":45,"d":0.425,"v":0.39},{"t":45,"d":0.475,"v":0.41},
{"t":45,"d":0.525,"v":0.42},{"t":45,"d":0.575,"v":0.42},{"t":45,"d":0.625,"v":0.41},{"t":45,"d":0.675,"v":0.4},{"t":45,"d":0.725,"v":0.38},{"t":45,"d":0.775,"v":0.36},{"t":45,"d":0.825,"v":0.34},{"t":45,"d":0.875,"v":0.32},{"t":45,"d":0.925,"v":0.3},{"t":45,"d":0.975,"v":0.28},
{"t":45,"d":1.025,"v":0.26},{"t":45,"d":1.075,"v":0.24},{"t":45,"d":1.125,"v":0.23},{"t":45,"d":1.175,"v":0.21},{"t":45,"d":1.225,"v":0.2},{"t":45,"d":1.275,"v":0.2},{"t":45,"d":1.325,"v":0.19},{"t":45,"d":1.375,"v":0.18},{"t":45,"d":1.425,"v":0.17},{"t":45,"d":1.475,"v":0.16},
{"t":45,"d":1.525,"v":0.15},{"t":45,"d":1.575,"v":0.14},{"t":45,"d":1.625,"v":0.13},{"t":45,"d":1.675,"v":0.12},{"t":45,"d":1.725,"v":0.11},{"t":45,"d":1.775,"v":0.1},{"t":45,"d":1.825,"v":0.09},{"t":45,"d":1.875,"v":0.08},{"t":45,"d":1.925,"v":0.08},{"t":45,"d":1.975,"v":0.07},
{"t":45,"d":2.025,"v":0.06},{"t":45,"d":2.075,"v":0.05},{"t":45,"d":2.125,"v":0.05},{"t":45,"d":2.175,"v":0.04},{"t":45,"d":2.225,"v":0.03},{"t":45,"d":2.275,"v":0.03},{"t":45,"d":2.325,"v":0.02},{"t":45,"d":2.375,"v":0.02},{"t":45,"d":2.425,"v":0.02},{"t":45,"d":2.475,"v":0.02},
{"t":45,"d":2.525,"v":0.02},{"t":45,"d":2.575,"v":0.02},{"t":45,"d":2.625,"v":0.02},{"t":45,"d":2.675,"v":0.02},{"t":45,"d":2.725,"v":0.02},{"t":45,"d":2.775,"v":0.02},{"t":45,"d":2.825,"v":0.02},{"t":45,"d":2.875,"v":0.02},{"t":45,"d":2.925,"v":0.02},{"t":45,"d":2.975,"v":0.02},
{"t":30,"d":0.025,"v":0.02},{"t":30,"d":0.075,"v":0.02},{"t":30,"d":0.125,"v":0.03},{"t":30,"d":0.175,"v":0.04},{"t":30,"d":0.225,"v":0.05},{"t":30,"d":0.275,"v":0.06},{"t":30,"d":0.325,"v":0.08},{"t":30,"d":0.375,"v":0.09},{"t":30,"d":0.425,"v":0.1},{"t":30,"d":0.475,"v":0.11},
{"t":30,"d":0.525,"v":0.12},{"t":30,"d":0.575,"v":0.13},{"t":30,"d":0.625,"v":0.14},{"t":30,"d":0.675,"v":0.15},{"t":30,"d":0.725,"v":0.16},{"t":30,"d":0.775,"v":0.17},{"t":30,"d":0.825,"v":0.17},{"t":30,"d":0.875,"v":0.18},{"t":30,"d":0.925,"v":0.18},{"t":30,"d":0.975,"v":0.18},
{"t":30,"d":1.025,"v":0.17},{"t":30,"d":1.075,"v":0.17},{"t":30,"d":1.125,"v":0.16},{"t":30,"d":1.175,"v":0.15},{"t":30,"d":1.225,"v":0.14},{"t":30,"d":1.275,"v":0.13},{"t":30,"d":1.325,"v":0.12},{"t":30,"d":1.375,"v":0.11},{"t":30,"d":1.425,"v":0.1},{"t":30,"d":1.475,"v":0.09},
{"t":30,"d":1.525,"v":0.08},{"t":30,"d":1.575,"v":0.07},{"t":30,"d":1.625,"v":0.06},{"t":30,"d":1.675,"v":0.06},{"t":30,"d":1.725,"v":0.05},{"t":30,"d":1.775,"v":0.05},{"t":30,"d":1.825,"v":0.04},{"t":30,"d":1.875,"v":0.04},{"t":30,"d":1.925,"v":0.03},{"t":30,"d":1.975,"v":0.03},
{"t":30,"d":2.025,"v":0.02},{"t":30,"d":2.075,"v":0.02},{"t":30,"d":2.125,"v":0.02},{"t":30,"d":2.175,"v":0.02},{"t":30,"d":2.225,"v":0.02},{"t":30,"d":2.275,"v":0.02},{"t":30,"d":2.325,"v":0.02},{"t":30,"d":2.375,"v":0.02},{"t":30,"d":2.425,"v":0.02},{"t":30,"d":2.475,"v":0.02},
{"t":30,"d":2.525,"v":0.02},{"t":30,"d":2.575,"v":0.02},{"t":30,"d":2.625,"v":0.02},{"t":30,"d":2.675,"v":0.02},{"t":30,"d":2.725,"v":0.02},{"t":30,"d":2.775,"v":0.02},{"t":30,"d":2.825,"v":0.02},{"t":30,"d":2.875,"v":0.02},{"t":30,"d":2.925,"v":0.02},{"t":30,"d":2.975,"v":0.02},
{"t":15,"d":0.025,"v":0.02},{"t":15,"d":0.075,"v":0.02},{"t":15,"d":0.125,"v":0.02},{"t":15,"d":0.175,"v":0.03},{"t":15,"d":0.225,"v":0.03},{"t":15,"d":0.275,"v":0.04},{"t":15,"d":0.325,"v":0.05},{"t":15,"d":0.375,"v":0.06},{"t":15,"d":0.425,"v":0.07},{"t":15,"d":0.475,"v":0.08},
{"t":15,"d":0.525,"v":0.09},{"t":15,"d":0.575,"v":0.1},{"t":15,"d":0.625,"v":0.1},{"t":15,"d":0.675,"v":0.11},{"t":15,"d":0.725,"v":0.11},{"t":15,"d":0.775,"v":0.12},{"t":15,"d":0.825,"v":0.12},{"t":15,"d":0.875,"v":0.12},{"t":15,"d":0.925,"v":0.12},{"t":15,"d":0.975,"v":0.12},
{"t":15,"d":1.025,"v":0.11},{"t":15,"d":1.075,"v":0.11},{"t":15,"d":1.125,"v":0.1},{"t":15,"d":1.175,"v":0.1},{"t":15,"d":1.225,"v":0.09},{"t":15,"d":1.275,"v":0.08},{"t":15,"d":1.325,"v":0.07},{"t":15,"d":1.375,"v":0.06},{"t":15,"d":1.425,"v":0.06},{"t":15,"d":1.475,"v":0.05},
{"t":15,"d":1.525,"v":0.05},{"t":15,"d":1.575,"v":0.04},{"t":15,"d":1.625,"v":0.04},{"t":15,"d":1.675,"v":0.03},{"t":15,"d":1.725,"v":0.03},{"t":15,"d":1.775,"v":0.02},{"t":15,"d":1.825,"v":0.02},{"t":15,"d":1.875,"v":0.02},{"t":15,"d":1.925,"v":0.02},{"t":15,"d":1.975,"v":0.02},
{"t":15,"d":2.025,"v":0.02},{"t":15,"d":2.075,"v":0.02},{"t":15,"d":2.125,"v":0.02},{"t":15,"d":2.175,"v":0.02},{"t":15,"d":2.225,"v":0.02},{"t":15,"d":2.275,"v":0.02},{"t":15,"d":2.325,"v":0.02},{"t":15,"d":2.375,"v":0.02},{"t":15,"d":2.425,"v":0.02},{"t":15,"d":2.475,"v":0.02},
{"t":15,"d":2.525,"v":0.02},{"t":15,"d":2.575,"v":0.02},{"t":15,"d":2.625,"v":0.02},{"t":15,"d":2.675,"v":0.02},{"t":15,"d":2.725,"v":0.02},{"t":15,"d":2.775,"v":0.02},{"t":15,"d":2.825,"v":0.02},{"t":15,"d":2.875,"v":0.02},{"t":15,"d":2.925,"v":0.02},{"t":15,"d":2.975,"v":0.02}
],
"pb": [
{"k":"core","t":15,"d":0.81,"lo":0.727,"hi":0.893},{"k":"core","t":30,"d":0.79,"lo":0.707,"hi":0.873},{"k":"core","t":45,"d":0.89,"lo":0.807,"hi":0.973},{"k":"core","t":75,"d":0.93,"lo":0.847,"hi":1.013},{"k":"core","t":120,"d":0.97,"lo":0.887,"hi":1.053},{"k":"core","t":180,"d":1.02,"lo":0.937,"hi":1.103},{"k":"core","t":240,"d":1.05,"lo":0.967,"hi":1.133},
{"k":"outer","t":45,"d":2.41,"lo":2.25,"hi":2.57},{"k":"outer","t":75,"d":1.79,"lo":1.63,"hi":1.95},{"k":"outer","t":120,"d":2.01,"lo":1.85,"hi":2.17},{"k":"outer","t":180,"d":2.13,"lo":1.97,"hi":2.29},{"k":"outer","t":240,"d":2.2,"lo":2.04,"hi":2.36}
],
"pc": [
{"s":"outer diameter","t":45,"v":2.41,"lo":2.25,"hi":2.57},{"s":"outer diameter","t":75,"v":1.79,"lo":1.63,"hi":1.95},{"s":"outer diameter","t":120,"v":2.01,"lo":1.85,"hi":2.17},{"s":"outer diameter","t":180,"v":2.13,"lo":1.97,"hi":2.29},{"s":"outer diameter","t":240,"v":2.2,"lo":2.04,"hi":2.36},
{"s":"core diameter","t":15,"v":0.81,"lo":0.65,"hi":0.97},{"s":"core diameter","t":30,"v":0.79,"lo":0.63,"hi":0.95},{"s":"core diameter","t":45,"v":0.89,"lo":0.73,"hi":1.05},{"s":"core diameter","t":75,"v":0.93,"lo":0.77,"hi":1.09},{"s":"core diameter","t":120,"v":0.97,"lo":0.81,"hi":1.13},{"s":"core diameter","t":180,"v":1.02,"lo":0.86,"hi":1.18},{"s":"core diameter","t":240,"v":1.05,"lo":0.89,"hi":1.21},
{"s":"shell thickness","t":45,"v":0.76,"lo":0.65,"hi":0.87},{"s":"shell thickness","t":75,"v":0.43,"lo":0.32,"hi":0.54},{"s":"shell thickness","t":120,"v":0.52,"lo":0.41,"hi":0.63},{"s":"shell thickness","t":180,"v":0.555,"lo":0.445,"hi":0.665},{"s":"shell thickness","t":240,"v":0.575,"lo":0.465,"hi":0.685}
]
},
"spacing": 95,
"bounds": "flush",
"resolve": {"scale": {"color": "independent", "stroke": "independent", "strokeDash": "independent", "shape": "independent", "size": "independent"}, "legend": {"color": "independent", "strokeDash": "independent"}},
"vconcat": [
{
 "width": 486, "height": 393,
 "title": {"text": "a", "dx": -64, "dy": 21},
 "layer": [
  {"data": {"name": "sa"}, "mark": {"type": "line", "strokeWidth": 1.1, "clip": true},
   "encoding": {
    "x": {"field": "q", "type": "quantitative", "scale": {"type": "log", "domain": [0.126, 10], "nice": false},
      "axis": {"title": "q / nm⁻¹", "values": [0.2,0.3,0.4,0.5,0.6,0.7,0.8,0.9,1,2,3,4,5,6,7,8,9,10],
        "labelExpr": "(datum.value == 1 || datum.value == 10) ? format(datum.value, 'd') : (round(datum.value < 1 ? datum.value * 10 : datum.value) == 9 ? '' : format(round(datum.value < 1 ? datum.value * 10 : datum.value), 'd'))",
        "labelFontSize": {"condition": {"test": "datum.value == 1 || datum.value == 10", "value": 20}, "value": 14},
        "tickSize": {"condition": {"test": "datum.value == 1 || datum.value == 10", "value": 8}, "value": 4},
        "labelPadding": {"condition": {"test": "datum.value == 1 || datum.value == 10", "value": 12}, "value": 2},
        "titleY": 60, "titleBaseline": "alphabetic"}},
    "y": {"field": "I", "type": "quantitative", "scale": {"type": "log", "domain": [0.02, 14.7], "nice": false},
      "axis": {"title": "intensity / a.u.", "values": [0.02,0.03,0.04,0.05,0.06,0.07,0.08,0.09,0.1,0.2,0.3,0.4,0.5,0.6,0.7,0.8,0.9,1,2,3,4,5,6,7,8,9,10],
        "labelExpr": "datum.value == 10 ? '10' : datum.value == 1 ? '1' : datum.value == 0.1 ? '0.1' : (indexof([2, 4, 6], round(datum.value / pow(10, floor(log(datum.value) / LN10 + 1e-6)))) >= 0 ? format(round(datum.value / pow(10, floor(log(datum.value) / LN10 + 1e-6))), 'd') : '')",
        "labelFontSize": {"condition": {"test": "datum.value == 10 || datum.value == 1 || datum.value == 0.1", "value": 20}, "value": 14},
        "tickSize": {"condition": {"test": "datum.value == 10 || datum.value == 1 || datum.value == 0.1", "value": 7}, "value": 4},
        "labelPadding": {"condition": {"test": "datum.value == 10 || datum.value == 1 || datum.value == 0.1", "value": 8}, "value": 2},
        "titleX": -52, "titleBaseline": "alphabetic"}},
    "color": {"field": "s", "type": "nominal", "scale": {"domain": ["15 s","30 s","45 s","75 s","240 s","120 s","180 s"], "range": ["#2a6cff","#6a1cff","#9a30ff","#d84cf2","#ff2a55","#ff40c0","#ff3d9a"]}, "legend": null}
   }},
  {"data": {"name": "fa"}, "mark": {"type": "line", "color": "#000", "strokeWidth": 1.6, "interpolate": "monotone", "clip": true},
   "encoding": {"x": {"field": "q", "type": "quantitative"}, "y": {"field": "I", "type": "quantitative"}, "detail": {"field": "s", "type": "nominal"}}},
  {"data": {"name": "la"}, "mark": {"type": "text", "align": "left", "baseline": "middle", "fontSize": 18, "color": "#3a3a3a", "font": "DejaVu Sans"},
   "encoding": {"x": {"field": "q", "type": "quantitative"}, "y": {"field": "I", "type": "quantitative"}, "text": {"field": "lab", "type": "nominal"}}}
 ]
},
{
 "spacing": 87,
 "bounds": "flush",
 "resolve": {"scale": {"color": "independent", "stroke": "independent", "strokeDash": "independent", "shape": "independent", "size": "independent"}, "legend": {"color": "independent", "strokeDash": "independent"}},
 "vconcat": [
 {
  "width": 486, "height": 397,
  "title": {"text": "b", "dx": -64, "dy": 2},
  "view": {"fill": "#6a00ff", "stroke": null},
  "resolve": {"scale": {"x": "independent"}, "axis": {"y": "independent", "x": "independent"}},
  "layer": [
   {"data": {"name": "heat"},
    "transform": [{"lookup": "t", "from": {"data": {"name": "bands"}, "key": "t", "fields": ["lo", "hi"]}}],
    "mark": {"type": "rect"},
    "encoding": {
     "x": {"field": "d", "type": "ordinal", "scale": {"paddingInner": 0, "paddingOuter": 0},
       "axis": {"orient": "top", "labels": false, "ticks": false, "title": null, "domain": true, "domainColor": "#333", "domainWidth": 1}},
     "y": {"field": "lo", "type": "quantitative", "scale": {"type": "log", "domain": [15, 300], "nice": false},
       "axis": {"orient": "right", "title": "volume-weighted size-distribution / 1", "labels": false, "ticks": false, "domain": true, "domainColor": "#333", "domainWidth": 1, "titleAngle": -90, "titleX": 30, "titleBaseline": "alphabetic", "titleFontSize": 21}},
     "y2": {"field": "hi"},
     "color": {"field": "v", "type": "quantitative", "scale": {"domain": [0,0.2,0.4,0.6,0.8,1], "range": ["#8000ff","#0000ff","#00ffff","#00ff00","#ffff00","#ff0000"], "interpolate": "rgb"},
        "legend": {"orient": "none", "legendX": 520, "legendY": 62, "title": null, "gradientLength": 268, "gradientThickness": 9, "labelExpr": "''", "gradientStrokeColor": "#000", "gradientStrokeWidth": 1, "direction": "vertical", "padding": 0}}
    }},
   {"data": {"name": "pb"},
    "encoding": {
     "x": {"field": "d", "type": "quantitative", "scale": {"domain": [0, 3], "nice": false, "zero": false},
       "axis": {"title": "particle diameter / nm", "values": [0,0.5,1,1.5,2,2.5,3],
         "labelExpr": "datum.value % 1 == 0 ? format(datum.value, 'd') : ''",
         "tickSize": {"condition": {"test": "datum.value % 1 != 0", "value": -6}, "value": 6},
         "labelPadding": 6, "titleY": 61, "titleBaseline": "alphabetic"}},
     "y": {"field": "t", "type": "quantitative", "scale": {"type": "log", "domain": [15, 300], "nice": false},
       "axis": {"title": "time / s", "values": [15,30,45,75,120,180,240], "format": "d", "tickSize": 6, "labelPadding": 4, "titleX": -61, "titleBaseline": "alphabetic"}}
    },
    "layer": [
     {"transform": [{"filter": "datum.k == 'core'"}], "mark": {"type": "line", "color": "#000", "strokeWidth": 2.5, "strokeDash": [2, 1.5]}, "encoding": {"order": {"field": "t", "type": "quantitative"}}},
     {"transform": [{"filter": "datum.k == 'outer'"}], "mark": {"type": "line", "color": "#fff", "strokeWidth": 2.5, "strokeDash": [2, 1.5]}, "encoding": {"order": {"field": "t", "type": "quantitative"}}},
     {"mark": {"type": "rule", "strokeWidth": 1.5}, "encoding": {"x": {"field": "lo", "type": "quantitative", "title": "particle diameter / nm"}, "x2": {"field": "hi"}, "color": {"condition": {"test": "datum.k == 'core'", "value": "#000"}, "value": "#fff"}}},
     {"mark": {"type": "tick", "orient": "vertical", "size": 10, "thickness": 1.5, "opacity": 1}, "encoding": {"x": {"field": "lo", "type": "quantitative", "title": "particle diameter / nm"}, "color": {"condition": {"test": "datum.k == 'core'", "value": "#000"}, "value": "#fff"}}},
     {"mark": {"type": "tick", "orient": "vertical", "size": 10, "thickness": 1.5, "opacity": 1}, "encoding": {"x": {"field": "hi", "type": "quantitative", "title": "particle diameter / nm"}, "color": {"condition": {"test": "datum.k == 'core'", "value": "#000"}, "value": "#fff"}}},
     {"mark": {"type": "point", "filled": true, "fill": "#fff", "stroke": "#000", "strokeWidth": 1.2, "opacity": 1},
      "encoding": {"shape": {"field": "k", "type": "nominal", "scale": {"domain": ["core","outer"], "range": ["square","circle"]}, "legend": null},
        "size": {"condition": {"test": "datum.k == 'core'", "value": 90}, "value": 75}}}
    ]}
  ]
 },
 {
  "width": 486, "height": 396,
  "title": {"text": "c", "dx": -64, "dy": -5},
  "data": {"name": "pc"},
  "resolve": {"axis": {"y": "independent"}},
  "layer": [
   {"encoding": {
     "x": {"field": "t", "type": "quantitative", "scale": {"domain": [0, 250], "nice": false},
       "axis": {"title": "time / s", "values": [0,25,50,75,100,125,150,175,200,225,250],
         "labelExpr": "datum.value % 50 == 0 ? format(datum.value, 'd') : ''",
         "tickSize": {"condition": {"test": "datum.value % 50 != 0", "value": -6}, "value": 6},
         "labelPadding": 8, "titleY": 60, "titleBaseline": "alphabetic"}},
     "y": {"field": "v", "type": "quantitative", "scale": {"domain": [0, 2.585], "nice": false},
       "axis": {"title": "mean particle diameter / nm", "values": [0,0.25,0.5,0.75,1,1.25,1.5,1.75,2,2.25,2.5],
         "labelExpr": "datum.value % 0.5 == 0 ? format(datum.value, '.1f') : ''",
         "tickSize": {"condition": {"test": "datum.value % 0.5 != 0", "value": -6}, "value": 6},
         "labelPadding": 4, "titleX": -63, "titleBaseline": "alphabetic"}}
    },
    "layer": [
     {"mark": {"type": "rule", "strokeWidth": 1.5}, "encoding": {"y": {"field": "lo", "type": "quantitative", "title": "mean particle diameter / nm"}, "y2": {"field": "hi"}, "color": {"condition": {"test": "datum.s == 'shell thickness'", "value": "#000"}, "value": "#ff0000"}}},
     {"mark": {"type": "tick", "orient": "horizontal", "size": 14, "thickness": 1.5, "opacity": 1}, "encoding": {"y": {"field": "lo", "type": "quantitative", "title": "mean particle diameter / nm"}, "color": {"condition": {"test": "datum.s == 'shell thickness'", "value": "#000"}, "value": "#ff0000"}}},
     {"mark": {"type": "tick", "orient": "horizontal", "size": 14, "thickness": 1.5, "opacity": 1}, "encoding": {"y": {"field": "hi", "type": "quantitative", "title": "mean particle diameter / nm"}, "color": {"condition": {"test": "datum.s == 'shell thickness'", "value": "#000"}, "value": "#ff0000"}}},
     {"mark": {"type": "line", "strokeWidth": 2},
      "encoding": {
       "color": {"field": "s", "type": "nominal", "scale": {"domain": ["outer diameter","core diameter","shell thickness"], "range": ["#ff0000","#ff0000","#000000"]},
         "legend": {"title": "CNDs:", "orient": "none", "legendX": 246, "legendY": 105, "symbolType": "M-2.05,0L-0.62,0M0.62,0L2.05,0M0.62,0A0.62,0.62,0,1,1,-0.62,0A0.62,0.62,0,1,1,0.62,0", "symbolSize": 400, "symbolStrokeWidth": 1.6, "symbolFillColor": "#fff", "symbolOffset": 12, "labelFontSize": 19, "titleFontSize": 19, "titleFontWeight": "normal", "titleColor": "#000", "labelColor": "#000", "strokeColor": "#222", "fillColor": "#fff", "padding": 5, "rowPadding": 4, "labelOffset": 19, "titlePadding": 2}},
       "strokeDash": {"field": "s", "type": "nominal", "scale": {"domain": ["outer diameter","core diameter","shell thickness"], "range": [[1,0],[3,3],[1,0]]},
         "legend": {"title": "CNDs:", "orient": "none", "legendX": 246, "legendY": 105, "symbolType": "M-2.05,0L-0.62,0M0.62,0L2.05,0M0.62,0A0.62,0.62,0,1,1,-0.62,0A0.62,0.62,0,1,1,0.62,0", "symbolSize": 400, "symbolStrokeWidth": 1.6, "symbolFillColor": "#fff", "symbolOffset": 12, "labelFontSize": 19, "titleFontSize": 19, "titleFontWeight": "normal", "titleColor": "#000", "labelColor": "#000", "strokeColor": "#222", "fillColor": "#fff", "padding": 5, "rowPadding": 4, "labelOffset": 19, "titlePadding": 2}}
      }},
     {"transform": [{"filter": "datum.s != 'shell thickness'"}], "mark": {"type": "point", "filled": true, "fill": "#fff", "stroke": "#ff0000", "strokeWidth": 1.5, "size": 95, "opacity": 1}}
    ]},
   {"transform": [{"filter": "datum.s == 'shell thickness'"}],
    "mark": {"type": "point", "filled": true, "fill": "#fff", "stroke": "#000", "strokeWidth": 1.5, "size": 95, "opacity": 1},
    "encoding": {
     "x": {"field": "t", "type": "quantitative", "title": "time / s"},
     "y": {"field": "v", "type": "quantitative",
       "axis": {"orient": "right", "title": "shell thickness / nm", "values": [0,0.25,0.5,0.75,1,1.25,1.5,1.75,2,2.25,2.5],
         "labelExpr": "datum.value % 0.5 == 0 ? format(datum.value, '.1f') : ''",
         "tickSize": {"condition": {"test": "datum.value % 0.5 != 0", "value": -6}, "value": 6},
         "labelPadding": 2, "titleX": 56, "titleBaseline": "alphabetic", "titleAngle": 90, "titleFontSize": 20}}
    }}
  ]
 }
 ]
}
]
}
